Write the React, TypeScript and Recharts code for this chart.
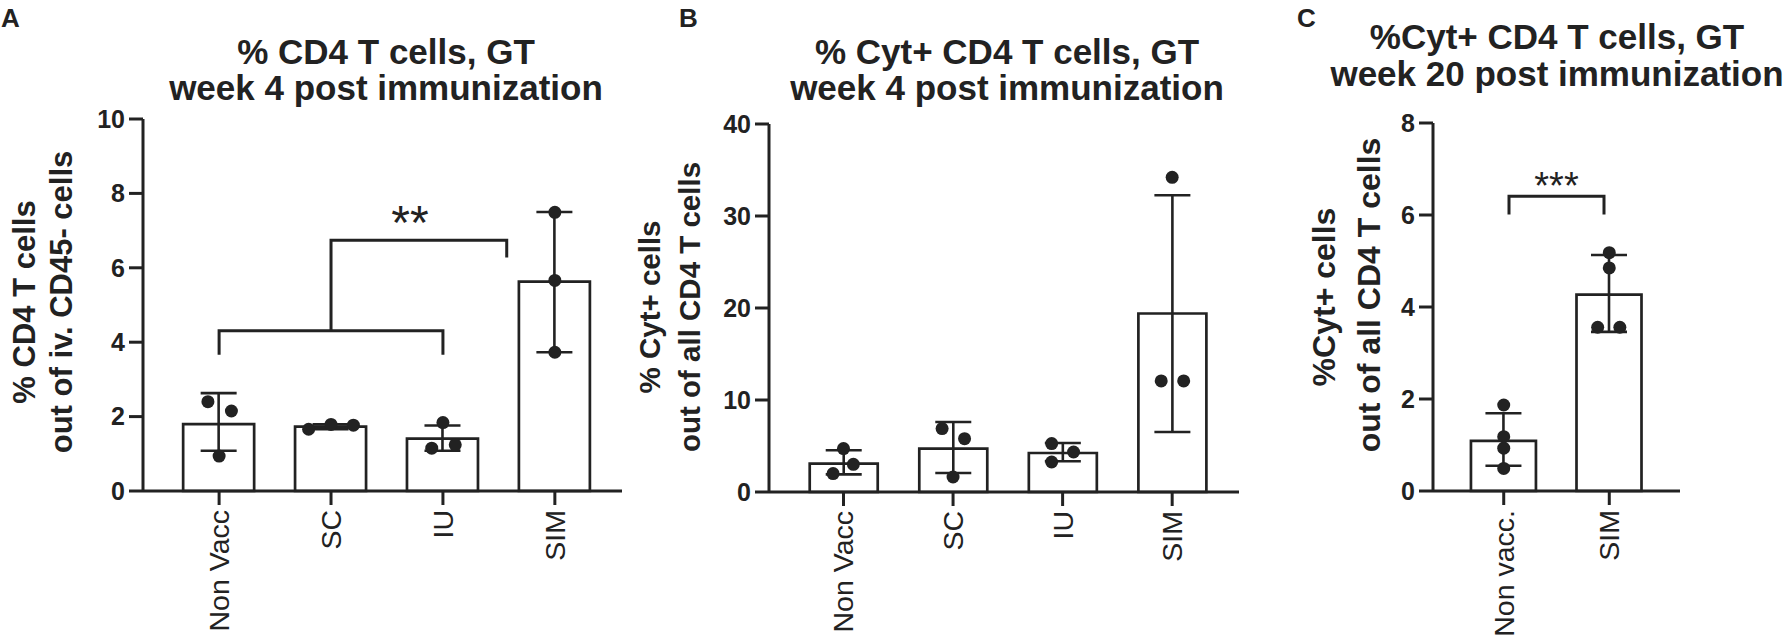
import React from "react";
import {
  ComposedChart,
  Bar,
  Line,
  Scatter,
  XAxis,
  YAxis,
  ErrorBar,
  ReferenceDot,
} from "recharts";

const INK = "#222";
const FONT = '"Liberation Sans", Arial, Helvetica, sans-serif';

// ---- panel A: % CD4 T cells, week 4 ----
const aGroups = ["Non Vacc", "SC", "IU", "SIM"];
const aMeans = [1.8, 1.73, 1.41, 5.63];
const aLow = [1.08, 1.66, 1.08, 3.73];
const aHigh = [2.63, 1.79, 1.76, 7.5];
// [group, jitter, value]
const aPoints = [
  [0, -0.1, 2.4], [0, 0.11, 2.15], [0, 0, 0.94],
  [1, -0.2, 1.66], [1, 0, 1.79], [1, 0.2, 1.77],
  [2, 0, 1.84], [2, -0.1, 1.15], [2, 0.11, 1.24],
  [3, 0, 7.49], [3, 0, 5.66], [3, 0, 3.73],
];
const aBrackets = [
  [[0, 3.66], [0, 4.31], [2, 4.31], [2, 3.66]],
  [[1, 4.31], [1, 6.74], [2.57, 6.74], [2.57, 6.28]],
];
const aStars = { text: "**", pos: 1.705, value: 7.52 };

// ---- panel B: % Cyt+ CD4 T cells, week 4 ----
const bGroups = ["Non Vacc", "SC", "IU", "SIM"];
const bMeans = [3.08, 4.72, 4.24, 19.4];
const bLow = [1.92, 2.07, 3.34, 6.52];
const bHigh = [4.53, 7.61, 5.33, 32.25];
const bPoints = [
  [0, 0, 4.72], [0, 0.09, 3.01], [0, -0.095, 2.0],
  [1, -0.1, 6.89], [1, 0.105, 5.8], [1, 0, 1.63],
  [2, -0.1, 5.26], [2, 0.1, 4.35], [2, -0.1, 3.26],
  [3, 0, 34.2], [3, -0.1, 12.07], [3, 0.105, 12.07],
];

// ---- panel C: %Cyt+ CD4 T cells, week 20 ----
const cGroups = ["Non vacc.", "SIM"];
const cMeans = [1.09, 4.27];
const cLow = [0.55, 3.46];
const cHigh = [1.69, 5.13];
const cPoints = [
  [0, 0, 1.87], [0, 0, 1.18], [0, 0, 0.93], [0, 0, 0.49],
  [1, 0, 5.18], [1, 0, 4.85], [1, -0.11, 3.56], [1, 0.1, 3.56],
];
const cBrackets = [[[0.05, 6.01], [0.05, 6.41], [0.95, 6.41], [0.95, 6.01]]];
const cStars = { text: "***", pos: 0.5, value: 6.81 };

const buildBars = (means: number[], low: number[], high: number[]) =>
  means.map((m, i) => ({ pos: i, mean: m, err: [m - low[i], high[i] - m] }));

const buildPoints = (pts: number[][]) =>
  pts.map(([g, dx, v]) => ({ pos: g + dx, val: v }));

const GroupTick = ({ x, y, payload, names }: any) => (
  <text
    x={x}
    y={y}
    transform={`rotate(-90 ${x} ${y})`}
    textAnchor="end"
    dy="0.35em"
    fontSize={28.5}
    fill={INK}
    fontFamily={FONT}
  >
    {names[payload.value]}
  </text>
);

const Dot = ({ cx, cy }: any) => <circle cx={cx} cy={cy} r={6.5} fill={INK} />;

interface PanelProps {
  left: number;
  width: number;
  margin: { top: number; right: number; bottom: number; left: number };
  groups: string[];
  means: number[];
  low: number[];
  high: number[];
  points: number[][];
  yMax: number;
  yTicks: number[];
  xDomain: [number, number];
  barSize: number;
  brackets?: number[][][];
  stars?: { text: string; pos: number; value: number };
  starSize?: number;
}

function Panel(p: PanelProps) {
  const bars = buildBars(p.means, p.low, p.high);
  const dots = buildPoints(p.points);
  const size = p.starSize || 40;
  return (
    <div style={{ position: "absolute", left: p.left, top: 0 }}>
      <ComposedChart width={p.width} height={641} data={bars} margin={p.margin}>
        <XAxis
          type="number"
          dataKey="pos"
          domain={p.xDomain}
          ticks={p.groups.map((_, i) => i)}
          interval={0}
          height={140}
          tickSize={14}
          tickMargin={5}
          axisLine={{ stroke: INK, strokeWidth: 3 }}
          tickLine={{ stroke: INK, strokeWidth: 3 }}
          tick={<GroupTick names={p.groups} />}
        />
        {/* hidden twin axis for dots and brackets so they don't shrink the bar band */}
        <XAxis xAxisId="pts" type="number" dataKey="pos" domain={p.xDomain} hide />
        <YAxis
          type="number"
          domain={[0, p.yMax]}
          ticks={p.yTicks}
          interval={0}
          width={60}
          tickSize={14}
          tickMargin={4}
          axisLine={{ stroke: INK, strokeWidth: 3 }}
          tickLine={{ stroke: INK, strokeWidth: 3 }}
          tick={{ fontSize: 25, fontWeight: 700, fill: INK, fontFamily: FONT }}
        />
        <Bar
          dataKey="mean"
          barSize={p.barSize}
          fill="#fff"
          stroke={INK}
          strokeWidth={2.7}
          isAnimationActive={false}
        >
          <ErrorBar dataKey="err" width={18} stroke={INK} strokeWidth={2.6} direction="y" />
        </Bar>
        <Scatter
          xAxisId="pts"
          data={dots}
          dataKey="val"
          shape={<Dot />}
          isAnimationActive={false}
        />
        {(p.brackets || []).map((br, i) => (
          <Line
            key={`br-${i}`}
            xAxisId="pts"
            data={br.map(([x, y]) => ({ pos: x, val: y }))}
            dataKey="val"
            type="linear"
            stroke={INK}
            strokeWidth={3}
            dot={false}
            activeDot={false}
            isAnimationActive={false}
          />
        ))}
        {p.stars && (
          <ReferenceDot
            xAxisId="pts"
            x={p.stars.pos}
            y={p.stars.value}
            r={0}
            shape={(s: any) => (
              <text
                x={s.cx}
                y={s.cy + size * 0.57}
                textAnchor="middle"
                fontSize={size}
                fill={INK}
                fontFamily={FONT}
              >
                {p.stars!.text}
              </text>
            )}
          />
        )}
      </ComposedChart>
    </div>
  );
}

const titleStyle = { fontFamily: FONT, fontWeight: 700, fill: INK } as const;

const VText = ({ x, y, size, text }: any) => (
  <g transform={`translate(${x} ${y}) rotate(-90)`}>
    <text x={0} y={0} fontSize={size} textAnchor="middle" {...titleStyle}>
      {text}
    </text>
  </g>
);

export default function App() {
  return (
    <div
      style={{
        position: "absolute",
        left: 0,
        top: 0,
        width: 1786,
        height: 641,
        background: "#fff",
        overflow: "hidden",
      }}
    >
      <Panel
        left={0}
        width={640}
        margin={{ top: 119, right: 18, bottom: 10, left: 83 }}
        groups={aGroups}
        means={aMeans}
        low={aLow}
        high={aHigh}
        points={aPoints}
        yMax={10}
        yTicks={[0, 2, 4, 6, 8, 10]}
        xDomain={[-0.68, 3.6]}
        barSize={71}
        brackets={aBrackets}
        stars={aStars}
        starSize={48}
      />
      <Panel
        left={640}
        width={610}
        margin={{ top: 124, right: 11, bottom: 9, left: 69 }}
        groups={bGroups}
        means={bMeans}
        low={bLow}
        high={bHigh}
        points={bPoints}
        yMax={40}
        yTicks={[0, 10, 20, 30, 40]}
        xDomain={[-0.68, 3.61]}
        barSize={68}
      />
      <Panel
        left={1250}
        width={536}
        margin={{ top: 123, right: 106, bottom: 10, left: 123 }}
        groups={cGroups}
        means={cMeans}
        low={cLow}
        high={cHigh}
        points={cPoints}
        yMax={8}
        yTicks={[0, 2, 4, 6, 8]}
        xDomain={[-0.67, 1.67]}
        barSize={65}
        brackets={cBrackets}
        stars={cStars}
        starSize={38}
      />
      <svg
        width={1786}
        height={641}
        style={{ position: "absolute", left: 0, top: 0, pointerEvents: "none" }}
      >
        <text x={1} y={27} fontSize={26} {...titleStyle}>A</text>
        <text x={679} y={27} fontSize={26} {...titleStyle}>B</text>
        <text x={1297} y={27} fontSize={26} {...titleStyle}>C</text>

        <text x={386} y={64} fontSize={35} textAnchor="middle" {...titleStyle}>% CD4 T cells, GT</text>
        <text x={386} y={100} fontSize={35} textAnchor="middle" {...titleStyle}>week 4 post immunization</text>
        <text x={1007} y={64} fontSize={35} textAnchor="middle" {...titleStyle}>% Cyt+ CD4 T cells, GT</text>
        <text x={1007} y={100} fontSize={35} textAnchor="middle" {...titleStyle}>week 4 post immunization</text>
        <text x={1557} y={49} fontSize={35} textAnchor="middle" {...titleStyle}>%Cyt+ CD4 T cells, GT</text>
        <text x={1557} y={86} fontSize={35} textAnchor="middle" {...titleStyle}>week 20 post immunization</text>

        <VText x={35} y={302} size={31} text="% CD4 T cells" />
        <VText x={72} y={302} size={31} text="out of iv. CD45- cells" />
        <VText x={660} y={307} size={29.5} text="% Cyt+ cells" />
        <VText x={700} y={307} size={29.5} text="out of all CD4 T cells" />
        <VText x={1335} y={297} size={32} text="%Cyt+ cells" />
        <VText x={1380} y={295} size={32} text="out of all CD4 T cells" />
      </svg>
    </div>
  );
}
